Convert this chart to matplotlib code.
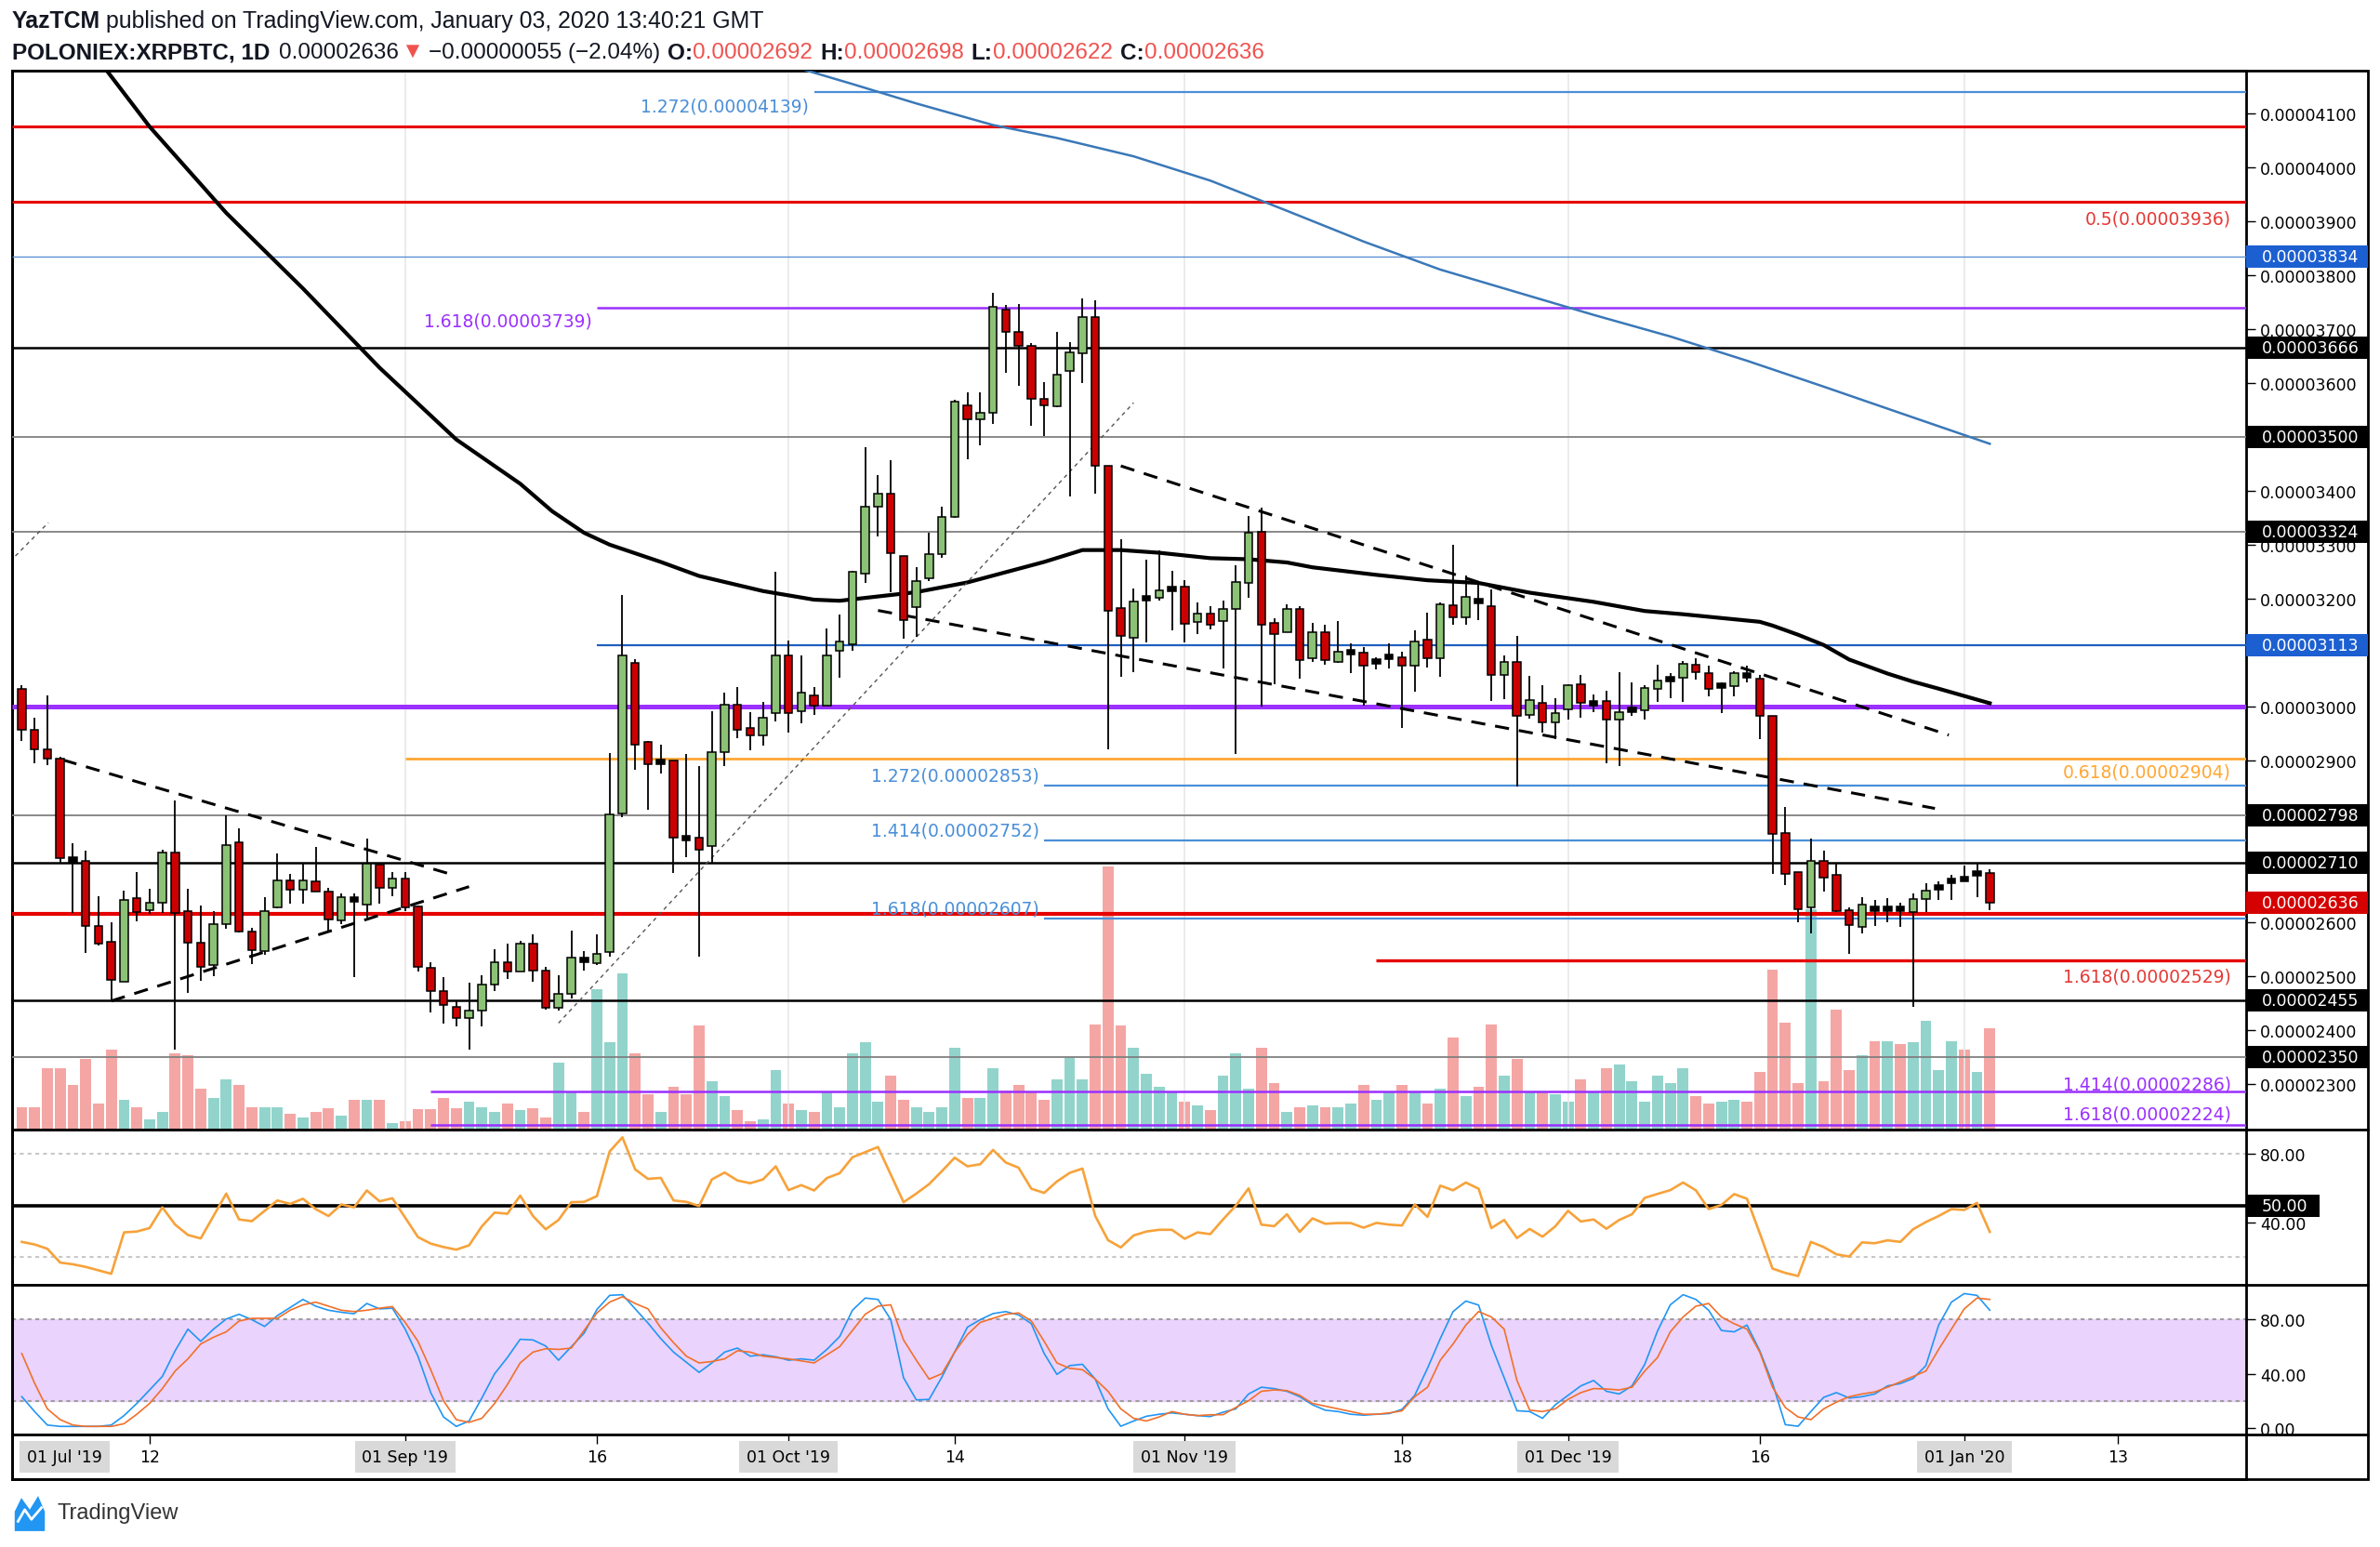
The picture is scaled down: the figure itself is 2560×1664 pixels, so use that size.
import matplotlib
matplotlib.use("Agg")
import matplotlib.pyplot as plt
import matplotlib.dates as mdates
import matplotlib.transforms as mtransforms
from matplotlib.patches import Rectangle, Polygon
from matplotlib.lines import Line2D
import numpy as np
import pandas as pd

# ---------------- data (prices in satoshi: 1 sat = 0.00000001 BTC) ----------------
dates = pd.date_range("2019-08-02", "2020-01-03", freq="D")

opens = [3033, 2957, 2920, 2903, 2716, 2713, 2593, 2563, 2490, 2644, 2623, 2636, 2730, 2620, 2562,
         2520, 2596, 2749, 2582, 2547, 2627, 2678, 2661, 2676, 2657, 2603, 2643, 2633, 2706, 2664,
         2681, 2630, 2515, 2473, 2443, 2422, 2436, 2484, 2525, 2508, 2560, 2511, 2442, 2467, 2531,
         2524, 2545, 2802, 3081, 2934, 2897, 2900, 2757, 2757, 2742, 2915, 3004, 2961, 2947, 2987,
         3095, 2992, 3020, 3001, 3104, 3116, 3247, 3371, 3394, 3279, 3184, 3238, 3282, 3352, 3558,
         3532, 3544, 3736, 3694, 3669, 3570, 3556, 3622, 3654, 3722, 3446, 3182, 3127, 3200, 3202,
         3217, 3223, 3157, 3172, 3158, 3181, 3229, 3324, 3155, 3137, 3181, 3090, 3138, 3082, 3100,
         3100, 3083, 3091, 3092, 3076, 3124, 3090, 3188, 3165, 3196, 3186, 3059, 3082, 2985, 3007,
         2971, 2994, 3042, 3006, 3010, 2975, 2993, 2993, 3033, 3050, 3054, 3078, 3062, 3038, 3037,
         3058, 3051, 2982, 2765, 2693, 2627, 2713, 2688, 2623, 2591, 2625, 2624, 2625, 2619, 2643,
         2664, 2675, 2681, 2688, 2692]
highs = [3040, 2979, 3020, 2906, 2747, 2733, 2648, 2600, 2658, 2693, 2662, 2734, 2825, 2662, 2631,
         2621, 2798, 2774, 2590, 2646, 2727, 2689, 2708, 2740, 2664, 2654, 2654, 2755, 2709, 2693,
         2693, 2631, 2525, 2498, 2456, 2488, 2502, 2550, 2560, 2566, 2577, 2518, 2502, 2584, 2547,
         2577, 2913, 3207, 3088, 2936, 2929, 2900, 2912, 2889, 2992, 3026, 3036, 2989, 3008, 3249,
         3123, 3095, 3036, 3144, 3170, 3251, 3481, 3429, 3457, 3279, 3258, 3322, 3371, 3568, 3582,
         3582, 3767, 3745, 3747, 3673, 3602, 3694, 3675, 3757, 3753, 3446, 3310, 3218, 3272, 3289,
         3252, 3234, 3193, 3186, 3197, 3261, 3353, 3369, 3163, 3189, 3186, 3155, 3152, 3159, 3117,
         3111, 3091, 3117, 3101, 3141, 3174, 3193, 3299, 3243, 3226, 3217, 3094, 3131, 3057, 3040,
         3016, 3042, 3059, 3023, 3030, 3063, 3045, 3039, 3077, 3062, 3084, 3090, 3075, 3044, 3065,
         3075, 3058, 2983, 2814, 2693, 2755, 2732, 2711, 2627, 2647, 2642, 2645, 2636, 2653, 2673,
         2676, 2688, 2705, 2709, 2698]
lows = [2936, 2894, 2891, 2710, 2617, 2543, 2557, 2453, 2490, 2601, 2616, 2617, 2363, 2469, 2491,
        2500, 2588, 2581, 2523, 2539, 2626, 2635, 2635, 2656, 2585, 2597, 2499, 2608, 2635, 2649,
        2620, 2508, 2433, 2412, 2407, 2363, 2407, 2472, 2494, 2508, 2490, 2438, 2436, 2459, 2511,
        2520, 2537, 2795, 2882, 2809, 2875, 2692, 2720, 2536, 2708, 2889, 2942, 2919, 2928, 2973,
        2952, 2968, 2985, 3001, 3054, 3104, 3229, 3315, 3212, 3126, 3129, 3233, 3275, 3350, 3458,
        3485, 3523, 3619, 3594, 3521, 3502, 3555, 3390, 3600, 3394, 2921, 3055, 3064, 3119, 3197,
        3142, 3119, 3134, 3143, 3071, 2912, 3202, 3000, 3042, 3137, 3051, 3082, 3078, 3080, 3062,
        3002, 3069, 3071, 2960, 3028, 3072, 3055, 3151, 3151, 3161, 3010, 3013, 2851, 2977, 2952,
        2939, 2976, 2979, 2990, 2894, 2890, 2982, 2975, 3009, 3015, 3009, 3049, 3019, 2988, 3018,
        3044, 2940, 2689, 2669, 2600, 2580, 2657, 2619, 2542, 2580, 2593, 2600, 2592, 2443, 2619,
        2642, 2642, 2677, 2647, 2622]
closes = [2957, 2920, 2903, 2719, 2715, 2593, 2561, 2493, 2641, 2619, 2637, 2730, 2617, 2562, 2518,
          2597, 2743, 2582, 2549, 2620, 2678, 2661, 2678, 2657, 2605, 2647, 2642, 2709, 2664, 2681,
          2628, 2518, 2473, 2446, 2422, 2436, 2484, 2525, 2508, 2560, 2511, 2442, 2467, 2535, 2530,
          2541, 2800, 3095, 2929, 2893, 2898, 2757, 2756, 2734, 2915, 3004, 2957, 2947, 2980, 3095,
          2987, 3026, 3001, 3095, 3120, 3249, 3371, 3394, 3285, 3160, 3233, 3282, 3352, 3566, 3532,
          3544, 3741, 3694, 3669, 3570, 3558, 3616, 3657, 3722, 3446, 3178, 3131, 3195, 3201, 3216,
          3218, 3154, 3172, 3151, 3181, 3230, 3322, 3151, 3134, 3181, 3086, 3138, 3086, 3101, 3101,
          3076, 3084, 3092, 3076, 3121, 3090, 3190, 3165, 3203, 3195, 3059, 3082, 2983, 3012, 2970,
          2987, 3039, 3006, 3007, 2975, 2990, 2994, 3034, 3048, 3051, 3079, 3064, 3033, 3039, 3062,
          3057, 2982, 2764, 2689, 2624, 2713, 2682, 2620, 2594, 2632, 2624, 2625, 2624, 2643, 2659,
          2666, 2677, 2680, 2692, 2636]
volume = [73, 73, 197, 197, 145, 227, 85, 257, 97, 73, 32, 56, 245, 239, 133,
          103, 162, 145, 73, 73, 73, 50, 38, 56, 68, 44, 97, 97, 97, 20,
          26, 67, 67, 103, 68, 91, 73, 56, 85, 62, 68, 38, 215, 121, 56,
          452, 281, 505, 245, 115, 56, 139, 115, 335, 156, 109, 62, 26, 32, 192,
          85, 62, 56, 121, 73, 245, 281, 91, 174, 97, 73, 56, 73, 263, 103,
          103, 197, 127, 145, 123, 97, 162, 233, 162, 340, 848, 335, 263, 180, 139,
          121, 91, 79, 62, 174, 245, 133, 263, 150, 56, 73, 79, 73, 73, 85,
          144, 97, 121, 144, 121, 85, 133, 298, 109, 139, 340, 174, 227, 121, 121,
          115, 91, 162, 121, 197, 209, 156, 91, 174, 150, 197, 109, 85, 91, 97,
          91, 185, 515, 346, 150, 711, 156, 388, 192, 239, 286, 286, 275, 281, 352,
          192, 286, 257, 185, 328]
rsi = [29, 27.5, 25, 17, 16, 14.5, 12.5, 10.5, 34.5, 35, 37, 49, 39, 33, 31,
       44, 57, 42, 41, 47, 53, 51, 54, 48, 44, 50.7, 49, 58.8, 52.5, 54.3,
       43, 31.8, 28, 26, 24.5, 27, 38, 46, 45.3, 55.8, 44, 36.3, 41.7, 52, 52.2,
       55.5, 81.4, 89.6, 71, 65.5, 66.1, 53, 52.2, 49.8, 65.2, 69.2, 64.6, 63.0, 65.2, 72.8,
       59, 61.9, 58.8, 66, 68.8, 78, 81, 84, 68, 52, 57, 62.5, 70, 77.8, 72.8,
       74, 82.3, 75, 72, 59.8, 57.4, 64, 69, 71.5, 44, 30, 25.8, 32.7, 35, 36,
       36, 30.8, 34.5, 33.5, 42, 50, 60, 39, 38.1, 45, 34.8, 42.6, 39.5, 39.9, 39.9,
       37.2, 40, 39, 38.5, 50.7, 43.5, 61.6, 58.9, 63.4, 59.8, 37, 41.7, 31.2, 36.5, 32,
       38, 47, 40.8, 42, 36.6, 41.7, 45, 54.5, 56.8, 59, 63.4, 58.9, 48, 50.4, 56.7,
       54, 34, 13.5, 11.0, 9.2, 29, 26, 21.8, 20.5, 28.7, 28.2, 29.9, 29, 36.3, 40.5,
       44, 48, 47.5, 51.6, 34.8]
stoch_k = [23, 12, 2, 1, 1, 1, 1, 2, 9, 18, 28, 38, 57, 73, 64,
           73, 80.5, 84, 80, 75, 83, 89, 95, 90, 87, 85.5, 84.4, 92, 88, 88.5,
           73, 53, 26, 8, 1, 5, 22, 40, 52, 65.5, 65, 60.5, 50, 60, 70,
           87.5, 98, 98.5, 88, 77.5, 66, 56, 48.5, 41, 48, 56, 59, 53, 54, 52.5,
           50, 51, 50, 58, 67.5, 87, 96, 95, 80, 37, 20.6, 21, 37.5, 56, 74.5,
           80, 84.5, 86, 83.5, 77, 55, 39.5, 46, 47, 36, 14, 1.1, 5, 8.5, 10,
           11, 10, 9, 8.3, 11.5, 14, 25, 30, 29, 27, 23, 17, 13, 12, 10,
           9.3, 10, 10.5, 13.6, 24, 44, 66, 86, 93.8, 90.8, 61, 37, 12.6, 12, 7,
           17, 24, 31, 35, 27, 25, 31, 47, 71.6, 91, 98.5, 95, 87, 72, 71,
           76, 57, 33, 2.3, 1.1, 12, 22.5, 26, 22, 23, 25, 31, 32.7, 36.5, 46,
           76, 93, 99.3, 98, 87]
stoch_d = [55, 33, 14, 6, 2, 1, 1, 1, 3, 10, 18, 29, 42, 51, 62,
           67, 71, 79, 81, 81, 81, 87, 91, 93, 90, 87, 86, 87, 88.5, 89.7,
           78, 64, 43, 20, 6, 4, 7, 18, 32, 48, 56, 58.5, 58, 59, 72,
           85, 93, 97, 92, 88, 74, 63, 53, 48, 49, 51, 57, 56, 53, 52,
           51, 49.5, 48, 54, 60, 72, 84, 90, 91, 65, 50, 36, 40, 56, 69,
           78, 81, 84, 85, 79, 64, 48, 44, 43, 36, 27, 14, 7, 5, 8,
           12, 10, 9, 9.6, 9.7, 15, 20, 27, 28, 27.5, 24, 18, 16, 14, 12,
           10, 10, 11, 12.5, 23, 30, 50, 62, 76, 86, 82, 73, 35, 13, 12,
           14, 21, 26, 29, 28.7, 28, 30, 42, 52, 71, 82, 90, 92, 82, 77,
           73, 56, 30, 15, 8, 6, 14, 19, 23, 25, 26.5, 30, 34, 38, 42,
           58, 73, 88, 96, 95]

# moving averages, sampled off the chart
ma_black_dates = ["2019-08-07", "2019-08-12", "2019-08-18", "2019-08-24", "2019-08-30", "2019-09-05",
                  "2019-09-10", "2019-09-12 12:00", "2019-09-15", "2019-09-17", "2019-09-19",
                  "2019-09-21", "2019-09-24", "2019-09-29",
                  "2019-10-03", "2019-10-05", "2019-10-08", "2019-10-11", "2019-10-15", "2019-10-18",
                  "2019-10-21", "2019-10-24", "2019-10-27", "2019-10-30", "2019-11-03", "2019-11-06",
                  "2019-11-09", "2019-11-11", "2019-11-16", "2019-11-20", "2019-11-24", "2019-11-28",
                  "2019-12-03", "2019-12-07", "2019-12-10", "2019-12-13", "2019-12-16", "2019-12-17",
                  "2019-12-19", "2019-12-21", "2019-12-23", "2019-12-26", "2019-12-28", "2019-12-30",
                  "2020-01-03"]
ma_black = [4230, 4075, 3915, 3775, 3628, 3495, 3413, 3362, 3322, 3300, 3284, 3268, 3242, 3214,
            3198, 3196, 3204, 3212, 3230, 3249, 3268, 3290, 3290, 3285, 3275, 3273, 3267, 3258,
            3244, 3234, 3229, 3211, 3194, 3177, 3171, 3164, 3157, 3150, 3133, 3114, 3087, 3061,
            3046, 3033, 3006]
ma_blue_dates = ["2019-10-02", "2019-10-06", "2019-10-11", "2019-10-17", "2019-10-22", "2019-10-28",
                 "2019-11-03", "2019-11-09", "2019-11-15", "2019-11-21", "2019-11-27", "2019-12-03",
                 "2019-12-09", "2019-12-15", "2019-12-21", "2019-12-27", "2020-01-03"]
ma_blue = [4182, 4154, 4118, 4078, 4054, 4020, 3975, 3919, 3862, 3810, 3768, 3726, 3686, 3641,
           3593, 3544, 3487]

# drawn trend lines: (start date, start price, end date, end price)
tri_upper = ["2019-08-05 05:00", 2901, "2019-09-05", 2686]
tri_lower = ["2019-08-09", 2454, "2019-09-06", 2666]
rally_line = ["2019-09-13", 2413, "2019-10-28", 3563]
chan_upper = ["2019-10-27", 3446, "2019-12-30 19:00", 2947]
chan_lower = ["2019-10-08", 3178, "2019-12-29 17:00", 2811]
old_line = ["2019-08-01 12:00", 3279, "2019-08-04 02:00", 3341]

price_ticks = list(range(2300, 4101, 100))
hidden_ticks = [2700, 2800, 3100]   # fully covered by marker boxes in the original
xtick_dates = ["2019-08-05 08:00", "2019-08-12", "2019-09-01", "2019-09-16", "2019-10-01", "2019-10-14",
               "2019-11-01", "2019-11-18", "2019-12-01", "2019-12-16", "2020-01-01", "2020-01-13"]
xtick_labels = ["01 Jul '19", "12", "01 Sep '19", "16", "01 Oct '19", "14",
                "01 Nov '19", "18", "01 Dec '19", "16", "01 Jan '20", "13"]
month_starts = ["2019-09-01", "2019-10-01", "2019-11-01", "2019-12-01", "2020-01-01"]

# ---------------- layout ----------------
W, H = 2560, 1665
fig = plt.figure(figsize=(W / 100, H / 100), dpi=100, facecolor="white")


def box(x0, y0, x1, y1):
    return [x0 / W, 1 - y1 / H, (x1 - x0) / W, (y1 - y0) / H]


XL, XR, XF = 13, 2416, 2547
Y_TOP, Y_RSI, Y_STO, Y_AX, Y_BOT = 77, 1216, 1383, 1544, 1592

ax = fig.add_axes(box(XL, Y_TOP, XR, Y_RSI))
axv = ax.twinx()
ax_r = fig.add_axes(box(XL, Y_RSI, XR, Y_STO), sharex=ax)
ax_s = fig.add_axes(box(XL, Y_STO, XR, Y_AX), sharex=ax)
ax_x = fig.add_axes(box(XL, Y_AX, XR, Y_BOT), sharex=ax)

ax.set_zorder(axv.get_zorder() + 1)
ax.patch.set_visible(False)
axv.axis("off")

x = mdates.date2num(dates)
sep1 = mdates.date2num(pd.Timestamp("2019-09-01"))
ax.set_xlim(sep1 - 30.76, sep1 + 144.06)
xmax = sep1 + 144.06
YMIN, YMAX = 2215.6, 4178.8
ax.set_ylim(YMIN, YMAX)
axv.set_ylim(0, 3419)

o = np.array(opens, float)
h = np.array(highs, float)
l = np.array(lows, float)
c = np.array(closes, float)
up = c >= o

GREEN, RED = "#8cc276", "#cc0000"
TEAL, PINK = "#92d4cc", "#f4a6a4"

# volume
axv.bar(x, volume, width=0.86, color=np.where(up, TEAL, PINK), zorder=1)

# month grid
for m in month_starts:
    ax.axvline(mdates.date2num(pd.Timestamp(m)), color="#e8e8e8", lw=1.2, zorder=0)


def d2n(s):
    return mdates.date2num(pd.Timestamp(s))


def level(p, start=None, color="black", lw=1.5):
    x0 = ax.get_xlim()[0] if start is None else d2n(start)
    ax.hlines(p, x0, xmax, colors=color, lw=lw, zorder=3)


BLUE_FIB = "#4a8fd8"
PURPLE = "#9b30ff"
REDL = "#e60000"
ORANGE = "#ffa733"
GRAY = "#808080"

level(4139, "2019-10-03", BLUE_FIB, 1.6)
level(4075, None, REDL, 2.2)
level(3936, None, REDL, 2.2)
level(3834, None, "#5b8fd6", 1.0)
level(3739, "2019-09-16", PURPLE, 1.8)
level(3666, None, "black", 1.8)
level(3500, None, GRAY, 1.3)
level(3324, None, GRAY, 1.3)
level(3113, "2019-09-16", "#1f5fbf", 1.6)
level(3000, None, PURPLE, 3.6)
level(2904, "2019-09-01", ORANGE, 2.0)
level(2853, "2019-10-21", BLUE_FIB, 1.6)
level(2798, None, GRAY, 1.3)
level(2752, "2019-10-21", BLUE_FIB, 1.6)
level(2710, None, "black", 1.8)
level(2615, None, REDL, 3.0)
level(2607, "2019-10-21", BLUE_FIB, 1.6)
level(2529, "2019-11-16", REDL, 2.4)
level(2455, None, "black", 1.8)
level(2350, None, GRAY, 1.3)
level(2286, "2019-09-03", PURPLE, 1.8)
level(2224, "2019-09-03", PURPLE, 1.8)

# fib labels
FIB_FS = 13.5
tr_right = mtransforms.blended_transform_factory(ax.transAxes, ax.transData)


def left_label(p, start, text, color, dy):
    ax.annotate(text, (d2n(start), p), xytext=(-4, dy), textcoords="offset points",
                ha="right", va="center", color=color, fontsize=FIB_FS, zorder=6)


def right_label(p, text, color, dy):
    ax.annotate(text, (0.9933, p), xycoords=tr_right, xytext=(0, dy), textcoords="offset points",
                ha="right", va="center", color=color, fontsize=FIB_FS, zorder=6)


left_label(4139, "2019-10-03", "1.272(0.00004139)", BLUE_FIB, -11)
left_label(3739, "2019-09-16", "1.618(0.00003739)", PURPLE, -10)
left_label(2853, "2019-10-21", "1.272(0.00002853)", BLUE_FIB, 8)
left_label(2752, "2019-10-21", "1.414(0.00002752)", BLUE_FIB, 8)
left_label(2607, "2019-10-21", "1.618(0.00002607)", BLUE_FIB, 8)
right_label(3936, "0.5(0.00003936)", "#e53935", -13)
right_label(2904, "0.618(0.00002904)", ORANGE, -10.5)
right_label(2529, "1.618(0.00002529)", "#e53935", -12)
right_label(2286, "1.414(0.00002286)", PURPLE, 6)
right_label(2224, "1.618(0.00002224)", PURPLE, 9)

# moving averages
ax.plot([d2n(s) for s in ma_black_dates], ma_black, color="black", lw=3.0, zorder=4)
ax.plot([d2n(s) for s in ma_blue_dates], ma_blue, color="#3a78b8", lw=1.8, zorder=4)

# trend lines
for ln in (tri_upper, tri_lower, chan_upper, chan_lower):
    ax.plot([d2n(ln[0]), d2n(ln[2])], [ln[1], ln[3]], color="black", lw=2.2,
            linestyle=(0, (5, 3.5)), zorder=4)
for ln in (rally_line, old_line):
    ax.plot([d2n(ln[0]), d2n(ln[2])], [ln[1], ln[3]], color="#555555", lw=1.0,
            linestyle=(0, (3, 3)), zorder=4)

# candles
body_lo = np.minimum(o, c)
body_hi = np.maximum(o, c)
tiny = (body_hi - body_lo) < 9
mid = (body_lo + body_hi) / 2
body_lo = np.where(tiny, mid - 4.5, body_lo)
body_hi = np.where(tiny, mid + 4.5, body_hi)
body_col = np.where(tiny, "black", np.where(up, GREEN, RED))
ax.vlines(x, l, h, color="black", lw=1.3, zorder=5)
ax.bar(x, body_hi - body_lo, bottom=body_lo, width=0.62, color=body_col,
       edgecolor="black", linewidth=1.1, zorder=6)

# right price axis
AX_FS = 12.5
ax.yaxis.tick_right()
ax.set_yticks(price_ticks)
ax.set_yticklabels(["" if v in hidden_ticks else f"{v / 1e8:.8f}" for v in price_ticks])
ax.tick_params(axis="y", direction="out", length=7, width=1, labelsize=AX_FS, pad=4)
ax.tick_params(axis="x", bottom=False, labelbottom=False)

BOX_W = (XF - XR) / (XR - XL)


def axis_box(a, y, text, color, h_units, width=BOX_W):
    tr = mtransforms.blended_transform_factory(a.transAxes, a.transData)
    a.add_patch(Rectangle((1.0, y - h_units / 2), width, h_units, transform=tr,
                          facecolor=color, edgecolor="none", clip_on=False, zorder=10))
    a.text(1.0 + 17 / (XR - XL), y, text, transform=tr, color="white", fontsize=AX_FS,
           va="center", ha="left", clip_on=False, zorder=11)


sat_per_px = (YMAX - YMIN) / (Y_RSI - Y_TOP)
for p in (3666, 3500, 3324, 2798, 2710, 2455, 2350):
    axis_box(ax, p, f"{p / 1e8:.8f}", "black", 24 * sat_per_px)
for p in (3834, 3113):
    axis_box(ax, p, f"{p / 1e8:.8f}", "#1c5fd1", 24 * sat_per_px)
axis_box(ax, closes[-1], f"{closes[-1] / 1e8:.8f}", "#d50000", 24 * sat_per_px)

# RSI pane
RMIN, RMAX = 4.1, 94.1
ax_r.set_ylim(RMIN, RMAX)
ax_r.axhline(80, color="#c8c8c8", lw=1.5, linestyle=(0, (2, 2)))
ax_r.axhline(20, color="#c8c8c8", lw=1.5, linestyle=(0, (2, 2)))
ax_r.axhline(50, color="black", lw=2.6)
ax_r.plot(x, rsi, color="#f7a23a", lw=1.9, zorder=4)
ax_r.yaxis.tick_right()
ax_r.set_yticks([80, 40])
ax_r.set_yticklabels(["80.00", "40.00"])
ax_r.tick_params(axis="y", direction="out", length=7, width=1, labelsize=AX_FS, pad=4)
ax_r.tick_params(axis="x", bottom=False, labelbottom=False)
axis_box(ax_r, 50, "50.00", "black", 24 * (RMAX - RMIN) / (Y_STO - Y_RSI), width=79 / (XR - XL))

# Stoch RSI pane
SMIN, SMAX = -5, 105.8
ax_s.set_ylim(SMIN, SMAX)
ax_s.axhspan(20, 80, color="#ead3fc", zorder=0)
ax_s.axhline(80, color="#9e9e9e", lw=1.5, linestyle=(0, (2, 2)))
ax_s.axhline(20, color="#9e9e9e", lw=1.5, linestyle=(0, (2, 2)))
ax_s.plot(x, stoch_k, color="#2196f3", lw=1.2, zorder=4)
ax_s.plot(x, stoch_d, color="#f2702a", lw=1.2, zorder=4)
ax_s.yaxis.tick_right()
ax_s.set_yticks([80, 40, 0])
ax_s.set_yticklabels(["80.00", "40.00", "0.00"])
ax_s.tick_params(axis="y", direction="out", length=7, width=1, labelsize=AX_FS, pad=4)
ax_s.tick_params(axis="x", bottom=False, labelbottom=False)

# time axis strip
ax_x.set_ylim(0, 1)
ax_x.set_yticks([])
ax_x.set_xticks([d2n(s) for s in xtick_dates[1:]])
ax_x.tick_params(axis="x", direction="in", length=7, width=1, top=True, bottom=False,
                 labelbottom=False)
for s, lab in zip(xtick_dates, xtick_labels):
    bb = dict(boxstyle="square,pad=0.45", fc="#d9d9d9", ec="none") if lab.startswith("01") else None
    ax_x.text(d2n(s), 0.5, lab, ha="center", va="center", fontsize=AX_FS, bbox=bb, zorder=3)

for a in (ax, ax_r, ax_s, ax_x):
    for sp in a.spines.values():
        sp.set_linewidth(2.0)

# outer frame around the price axis strip
fig.add_artist(Rectangle((XL / W, 1 - Y_BOT / H), (XF - XL) / W, (Y_BOT - Y_TOP) / H,
                         transform=fig.transFigure, fill=False, lw=2.0, ec="black"))
for yy in (Y_RSI, Y_STO, Y_AX):
    fig.add_artist(Line2D([XR / W, XF / W], [1 - yy / H, 1 - yy / H], transform=fig.transFigure,
                          color="black", lw=2.0))

# header
HEAD = ["Liberation Sans", "DejaVu Sans"]
renderer = fig.canvas.get_renderer()


def seq_text(x_px, y_px, parts, size):
    xx = x_px
    for s, color, weight, gap in parts:
        t = fig.text(xx / W, 1 - y_px / H, s, color=color, fontsize=size, fontweight=weight,
                     va="center", ha="left", family=HEAD)
        xx += t.get_window_extent(renderer=renderer).width + gap


HRED = "#ef5350"
seq_text(13, 23, [("YazTCM", "#131722", "bold", 6),
                  ("published on TradingView.com, January 03, 2020 13:40:21 GMT", "#131722", "normal", 0)], 17.9)
seq_text(13, 57, [("POLONIEX:XRPBTC, 1D", "#131722", "bold", 10),
                  ("0.00002636", "#131722", "normal", 2),
                  ("\u25bc", HRED, "normal", 6),
                  ("\u22120.00000055 (\u22122.04%)", "#131722", "normal", 8),
                  ("O:", "#131722", "bold", 0), ("0.00002692", HRED, "normal", 8),
                  ("H:", "#131722", "bold", 0), ("0.00002698", HRED, "normal", 8),
                  ("L:", "#131722", "bold", 0), ("0.00002622", HRED, "normal", 8),
                  ("C:", "#131722", "bold", 0), ("0.00002636", HRED, "normal", 0)], 17.5)

# TradingView logo
lax = fig.add_axes(box(14, 1608, 50, 1650))
lax.set_xlim(0, 1)
lax.set_ylim(0, 1)
lax.axis("off")
lax.add_patch(Polygon([(0.05, 0.05), (0.05, 0.55), (0.25, 0.9), (0.5, 0.6), (0.75, 0.95),
                       (0.95, 0.55), (0.95, 0.05)], closed=True, fc="#2196f3", ec="none"))
lax.plot([0.15, 0.35, 0.55, 0.85], [0.3, 0.6, 0.35, 0.65], color="white", lw=2)
fig.text(62 / W, 1 - 1628 / H, "TradingView", fontsize=17, color="#333333", va="center",
         ha="left", family=HEAD)

fig.savefig("out.png", dpi=100, facecolor="white")
